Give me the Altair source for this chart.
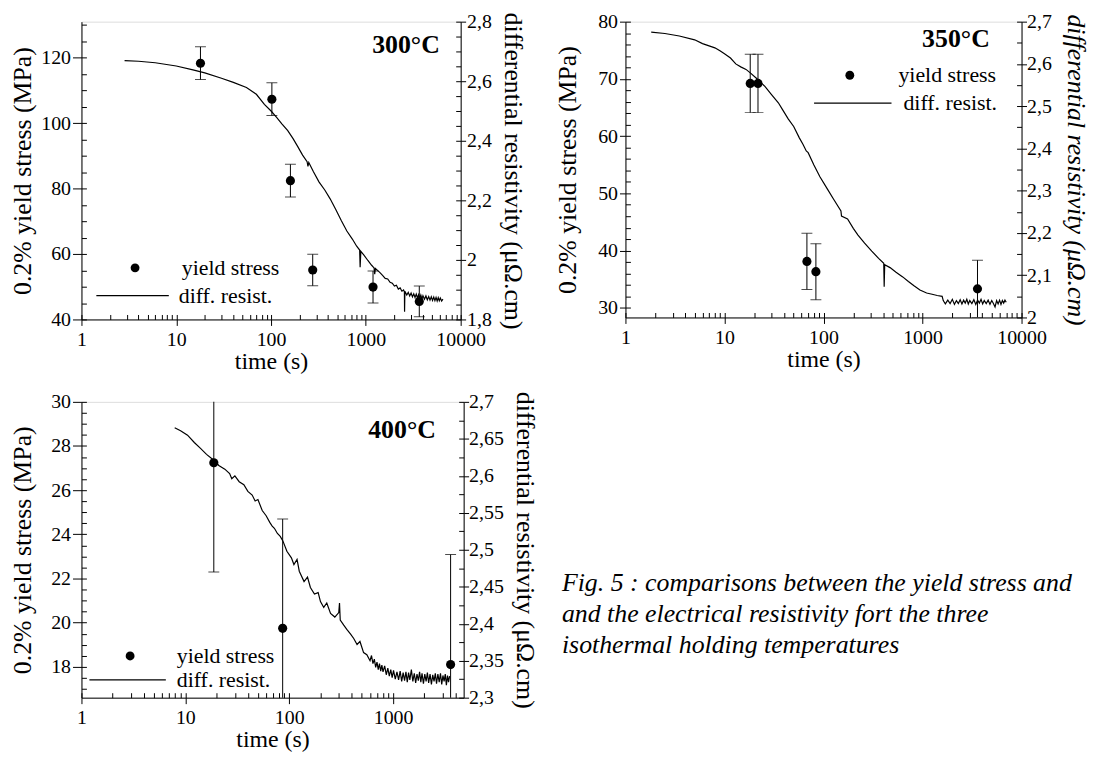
import altair as alt
import pandas as pd

FONT = "Liberation Serif"

# ---------------- data ----------------
# 300 °C
t300_pts = [18, 102, 160, 275, 1190, 3660]
s300_pts = [118.3, 107.3, 82.4, 55.1, 49.9, 45.5]
e300_pts = [5.0, 5.0, 5.0, 4.8, 4.9, 4.7]
t300_curve = [2.85, 4, 6, 10, 15, 20, 30, 40, 55, 70, 85, 100, 115, 130, 150, 170, 190,
              215, 240, 245, 250, 280, 320, 370, 420, 480, 550, 630, 720, 800, 860, 870,
              885, 950, 1050, 1150, 1220, 1240, 1260, 1400, 1500, 1600, 1700, 1800, 1900,
              2000, 2100, 2200, 2300, 2400, 2500, 2550, 2560, 2580, 2700, 2800, 2900, 3000,
              3100, 3200, 3300, 3400, 3500, 3600, 3700, 3800, 3900, 4000, 4150, 4300, 4450,
              4600, 4750, 4900, 5050, 5200, 5350, 5500, 5650, 5800, 5950, 6100, 6300, 6500]
r300_curve = [2.669, 2.667, 2.662, 2.651, 2.638, 2.628, 2.610, 2.596, 2.579, 2.556, 2.522,
              2.500, 2.478, 2.457, 2.434, 2.408, 2.382, 2.352, 2.330, 2.314, 2.327, 2.296,
              2.262, 2.234, 2.205, 2.170, 2.132, 2.097, 2.070, 2.046, 2.033, 1.975, 2.029,
              2.017, 1.998, 1.982, 1.973, 1.952, 1.971, 1.958, 1.948, 1.938, 1.936, 1.925,
              1.922, 1.912, 1.915, 1.902, 1.906, 1.895, 1.899, 1.893, 1.826, 1.895, 1.882,
              1.891, 1.879, 1.889, 1.876, 1.886, 1.874, 1.885, 1.872, 1.883, 1.871, 1.882,
              1.869, 1.880, 1.868, 1.879, 1.866, 1.877, 1.865, 1.876, 1.864, 1.875, 1.863,
              1.874, 1.862, 1.873, 1.863, 1.872, 1.862, 1.868]

# 350 °C
t350_pts = [18.2, 21.8, 68, 83.8, 3590]
s350_pts = [69.2, 69.2, 38.1, 36.3, 33.3]
e350_pts = [5.1, 5.1, 4.9, 4.9, 5.0]
t350_curve = [1.82, 2.5, 3.5, 5, 6, 8, 9, 10, 11.5, 13, 14.6, 16.5, 18.6, 21, 25.6, 30, 35,
              38.3, 44, 50, 57, 62, 67, 70, 80, 92, 110, 127, 150, 152, 175, 200, 223, 260,
              307, 360, 406, 410, 415, 470, 540, 631, 720, 820, 942, 1100, 1250, 1406, 1578,
              1620, 1700, 1800, 1900, 2000, 2100, 2200, 2300, 2400, 2500, 2600, 2700, 2800,
              2900, 3000, 3150, 3300, 3450, 3600, 3750, 3900, 4050, 4200, 4400, 4600, 4800,
              5000, 5200, 5400, 5600, 5800, 6000, 6200, 6400, 6600, 6800, 7000]
r350_curve = [2.675, 2.672, 2.666, 2.657, 2.648, 2.638, 2.631, 2.624, 2.614, 2.600, 2.593,
              2.587, 2.577, 2.566, 2.547, 2.527, 2.508, 2.493, 2.470, 2.452, 2.425, 2.410,
              2.394, 2.390, 2.361, 2.333, 2.303, 2.279, 2.252, 2.240, 2.233, 2.211, 2.195,
              2.176, 2.157, 2.140, 2.128, 2.073, 2.125, 2.118, 2.107, 2.096, 2.085, 2.075,
              2.065, 2.058, 2.055, 2.052, 2.050, 2.040, 2.032, 2.041, 2.033, 2.043, 2.031,
              2.040, 2.033, 2.042, 2.032, 2.041, 2.034, 2.043, 2.032, 2.040, 2.033, 2.042,
              2.031, 2.041, 2.034, 2.043, 2.032, 2.040, 2.033, 2.041, 2.031, 2.040, 2.033,
              2.025, 2.040, 2.032, 2.041, 2.031, 2.040, 2.034, 2.041, 2.036]

# 400 °C
t400_pts = [18.8, 86.5, 3580]
s400_pts = [27.24, 19.74, 18.1]
e400_pts = [4.95, 4.95, 4.98]
t400_curve = [7.9, 9, 10.5, 12.2, 14, 16, 18.8, 21, 24, 26.7, 28, 30, 33, 36.6, 40, 44, 47,
              50, 55, 60, 65, 68.6, 72, 77, 82, 86.9, 95, 105, 111, 119, 125, 139, 150, 160,
              175, 190, 200, 215, 230, 250, 275, 300, 305, 310, 335, 360, 390, 418, 450, 480,
              520, 559, 600, 620, 640, 660, 680, 700, 720, 740, 760, 780, 800, 830, 860, 890,
              920, 950, 980, 1010, 1050, 1090, 1130, 1170, 1210, 1250, 1290, 1330, 1370,
              1410, 1450, 1500, 1550, 1600, 1650, 1700, 1750, 1800, 1850, 1900, 1960, 2020,
              2080, 2140, 2200, 2270, 2340, 2410, 2480, 2550, 2620, 2700, 2780, 2860, 2940,
              3020, 3100, 3180, 3260, 3340, 3420, 3500]
r400_curve = [2.665, 2.661, 2.655, 2.645, 2.637, 2.629, 2.621, 2.614, 2.609, 2.603, 2.596,
              2.600, 2.592, 2.588, 2.579, 2.574, 2.566, 2.568, 2.553, 2.546, 2.537, 2.532,
              2.529, 2.522, 2.518, 2.512, 2.498, 2.489, 2.480, 2.487, 2.471, 2.457, 2.463,
              2.449, 2.440, 2.442, 2.430, 2.422, 2.428, 2.414, 2.409, 2.415, 2.428, 2.405,
              2.398, 2.392, 2.386, 2.380, 2.372, 2.376, 2.361, 2.358, 2.350, 2.357, 2.346,
              2.352, 2.341, 2.348, 2.338, 2.346, 2.336, 2.344, 2.335, 2.343, 2.331, 2.340,
              2.329, 2.338, 2.327, 2.337, 2.325, 2.335, 2.324, 2.336, 2.322, 2.334, 2.323,
              2.335, 2.321, 2.334, 2.324, 2.338, 2.322, 2.333, 2.320, 2.332, 2.323, 2.335,
              2.321, 2.333, 2.319, 2.332, 2.322, 2.334, 2.320, 2.332, 2.318, 2.331, 2.322,
              2.333, 2.319, 2.332, 2.321, 2.333, 2.318, 2.330, 2.322, 2.332, 2.317, 2.330,
              2.321, 2.329]

series_names = ["yield stress", "diff. resist."]
panel_labels = ["300°C", "350°C", "400°C"]
caption_lines = ["Fig. 5 : comparisons between the yield stress and",
                 "and the electrical resistivity fort the three",
                 "isothermal holding temperatures"]

# tick positions
x_major = [1, 10, 100, 1000, 10000]
x_minor = [k * 10 ** d for d in range(4) for k in range(1, 10)] + [10000]
s300_major = [40, 60, 80, 100, 120]
s300_minor = list(range(40, 131, 5))
r300_major = [1.8, 2.0, 2.2, 2.4, 2.6, 2.8]
r300_minor = [round(1.8 + 0.05 * i, 3) for i in range(21)]
s350_major = [30, 40, 50, 60, 70, 80]
s350_minor = list(range(30, 81, 2))
r350_major = [round(2.0 + 0.1 * i, 2) for i in range(8)]
r350_minor = [round(2.0 + 0.05 * i, 3) for i in range(15)]
s400_major = [18, 20, 22, 24, 26, 28, 30]
s400_minor = [17 + 0.5 * i for i in range(27)]
r400_major = [round(2.3 + 0.05 * i, 3) for i in range(9)]
r400_minor = [round(2.3 + 0.025 * i, 4) for i in range(17)]

Y_LEFT_TITLE = "0.2% yield stress (MPa)"
Y_RIGHT_TITLE = "differential resistivity (μΩ.cm)"
COMMA = "replace(format(datum.value, '.3~f'), '.', ',')"


def minor_axis(orient, values):
    return alt.Axis(orient=orient, values=values, labels=False, domain=False, ticks=True,
                    tickSize=5, offset=-5, tickColor="black", tickWidth=1, grid=False,
                    title=None)


def one_row():
    return pd.DataFrame({"k": [0]})


def legend_layers(lg):
    """In-plot key: a filled dot and a short line, each followed by its name."""
    dot = alt.Chart(one_row()).mark_point(filled=True, color="black", size=80, opacity=1,
                                          shape="circle").encode(
        x=alt.value(lg["dot"][0]), y=alt.value(lg["dot"][1]))
    line = alt.Chart(one_row()).mark_rule(color="black", strokeWidth=1.2).encode(
        x=alt.value(lg["line"][0]), x2=alt.value(lg["line"][1]), y=alt.value(lg["line"][2]))
    texts = []
    for name, (tx, ty) in zip(series_names, lg["text"]):
        texts.append(alt.Chart(pd.DataFrame({"name": [name]})).mark_text(
            align="left", baseline="middle", font=FONT, fontSize=22, color="black").encode(
            x=alt.value(tx), y=alt.value(ty), text="name:N"))
    return [dot, line] + texts


def panel(cfg):
    W, H = cfg["W"], cfg["H"]
    pts = pd.DataFrame({
        "t": cfg["t"], "s": cfg["s"],
        "lo": [s - e for s, e in zip(cfg["s"], cfg["e"])],
        "hi": [s + e for s, e in zip(cfg["s"], cfg["e"])],
    })
    cur = pd.DataFrame({"t": cfg["ct"], "r": cfg["cr"]})

    xs = alt.Scale(type="log", domain=cfg["xdom"], nice=False)
    ss = alt.Scale(domain=cfg["sdom"], nice=False, zero=False)
    rs = alt.Scale(domain=cfg["rdom"], nice=False, zero=False)

    x_major_axis = alt.Axis(orient="bottom", values=x_major, format="d", title="time (s)",
                            titleFont=FONT, titleFontSize=24, titleFontWeight="normal",
                            titleColor="black", titlePadding=0, labelFont=FONT,
                            labelFontSize=20, labelColor="black", labelPadding=4,
                            tickSize=6, tickColor="black", domainColor="black", grid=False,
                            labelFlush=False, labelOverlap=False, minExtent=30, maxExtent=30)
    left_axis = alt.Axis(orient="left", values=cfg["smaj"], format="d", title=Y_LEFT_TITLE,
                         titleFont=FONT, titleFontSize=26, titleFontWeight="normal",
                         titleColor="black", titlePadding=cfg["ltp"], labelFont=FONT,
                         labelFontSize=20, labelColor="black", labelPadding=2,
                         tickSize=cfg["ltick"], tickColor="black", domainColor="black",
                         grid=False, labelOverlap=False, minExtent=cfg["lext"],
                         maxExtent=cfg["lext"])
    right_axis = alt.Axis(orient="right", values=cfg["rmaj"], labelExpr=COMMA,
                          title=Y_RIGHT_TITLE, titleFont=FONT, titleFontSize=26,
                          titleFontWeight="normal", titleFontStyle=cfg["rstyle"],
                          titleColor="black", titlePadding=cfg["rtp"], labelFont=FONT,
                          labelFontSize=20, labelColor="black", labelPadding=cfg["rpad"],
                          tickSize=5, tickColor="black", domainColor="black", grid=False,
                          labelOverlap=False, minExtent=cfg["rext"], maxExtent=cfg["rext"])

    base = alt.Chart(pts)
    rules = base.mark_rule(color="black", strokeWidth=1, clip=True).encode(
        x=alt.X("t:Q", scale=xs, axis=None),
        y=alt.Y("lo:Q", scale=ss, axis=None), y2="hi:Q")
    cap_lo = base.mark_tick(orient="horizontal", size=11, thickness=1, color="black",
                            clip=True).encode(
        x=alt.X("t:Q", scale=xs, axis=None), y=alt.Y("lo:Q", scale=ss, axis=None))
    cap_hi = base.mark_tick(orient="horizontal", size=11, thickness=1, color="black",
                            clip=True).encode(
        x=alt.X("t:Q", scale=xs, axis=None), y=alt.Y("hi:Q", scale=ss, axis=None))
    dots = base.mark_point(filled=True, color="black", size=85, opacity=1,
                           shape="circle").encode(
        x=alt.X("t:Q", scale=xs, axis=x_major_axis),
        y=alt.Y("s:Q", scale=ss, axis=left_axis))
    left_minor = base.mark_point(opacity=0).encode(
        x=alt.X("t:Q", scale=xs, axis=minor_axis("bottom", x_minor)),
        y=alt.Y("s:Q", scale=ss, axis=minor_axis("left", cfg["smin"])))
    left = alt.layer(rules, cap_lo, cap_hi, dots, left_minor).resolve_axis(
        x="independent", y="independent")

    cbase = alt.Chart(cur)
    curve = cbase.mark_line(color="black", strokeWidth=1.2, clip=True).encode(
        x=alt.X("t:Q", scale=xs, axis=None),
        y=alt.Y("r:Q", scale=rs, axis=right_axis))
    right_minor = cbase.mark_point(opacity=0).encode(
        x=alt.X("t:Q", scale=xs, axis=None),
        y=alt.Y("r:Q", scale=rs, axis=minor_axis("right", cfg["rmin"])))
    right = alt.layer(curve, right_minor).resolve_axis(y="independent")

    label = alt.Chart(pd.DataFrame({"label": [cfg["label"]]})).mark_text(
        align="right", baseline="alphabetic", font=FONT, fontSize=26, fontWeight="bold",
        color="black").encode(x=alt.value(W - cfg["labdx"]), y=alt.value(cfg["labdy"]),
                              text="label:N")

    return alt.layer(left, right, label, *legend_layers(cfg["legend"])).resolve_scale(
        y="independent").resolve_axis(x="independent", y="independent").properties(
        width=W, height=H)


p300 = panel(dict(W=382, H=300, t=t300_pts, s=s300_pts, e=e300_pts, ct=t300_curve,
                  cr=r300_curve, xdom=[1, 10000], sdom=[40, 131], rdom=[1.8, 2.8],
                  smaj=s300_major, smin=s300_minor, rmaj=r300_major, rmin=r300_minor,
                  ltp=5.5, ltick=9, lext=41, rtp=8, rpad=1, rext=31, rstyle="normal",
                  label=panel_labels[0], labdx=21, labdy=32,
                  legend=dict(dot=(54, 248), line=(15, 88, 276),
                              text=[(101, 248), (98, 276)])))
p350 = panel(dict(W=399, H=298, t=t350_pts, s=s350_pts, e=e350_pts, ct=t350_curve,
                  cr=r350_curve, xdom=[1, 10000], sdom=[28.3, 80], rdom=[2.0, 2.7],
                  smaj=s350_major, smin=s350_minor, rmaj=r350_major, rmin=r350_minor,
                  ltp=17, ltick=6, lext=28, rtp=11, rpad=0, rext=30, rstyle="italic",
                  label=panel_labels[1], labdx=32, labdy=26,
                  legend=dict(dot=(226, 54), line=(190, 268, 82),
                              text=[(275, 54), (280, 82)])))
p400 = panel(dict(W=385, H=298, t=t400_pts, s=s400_pts, e=e400_pts, ct=t400_curve,
                  cr=r400_curve, xdom=[1, 4780], sdom=[16.6, 30], rdom=[2.3, 2.7],
                  smaj=s400_major, smin=s400_minor, rmaj=r400_major, rmin=r400_minor,
                  ltp=5.5, ltick=9, lext=41, rtp=8, rpad=0, rext=40, rstyle="normal",
                  label=panel_labels[2], labdx=28, labdy=36,
                  legend=dict(dot=(49, 256), line=(8, 85, 280),
                              text=[(96, 256), (96, 280)])))

cap_df = pd.DataFrame({"line": [1, 2, 3], "text": caption_lines})
caption = alt.Chart(cap_df).mark_text(
    align="left", baseline="alphabetic", font=FONT, fontSize=26, fontStyle="italic",
    color="black").encode(
    x=alt.value(0),
    y=alt.Y("line:Q", scale=alt.Scale(domain=[-5.145, 3.887], reverse=True, nice=False,
                                      zero=False), axis=None),
    text="text:N").properties(width=530, height=280,
                              view=alt.ViewBackground(stroke="transparent"))

row1 = alt.hconcat(p300, p350, spacing=28)
row2 = alt.hconcat(p400, caption, spacing=23)

chart = alt.vconcat(row1, row2, spacing=16).properties(
    padding={"left": 0, "top": 0, "right": 6, "bottom": 0},
    background="white").configure_view(stroke="black", strokeWidth=1).configure(font=FONT)

chart.save("out.html", embed_options={"renderer": "svg", "actions": False})
